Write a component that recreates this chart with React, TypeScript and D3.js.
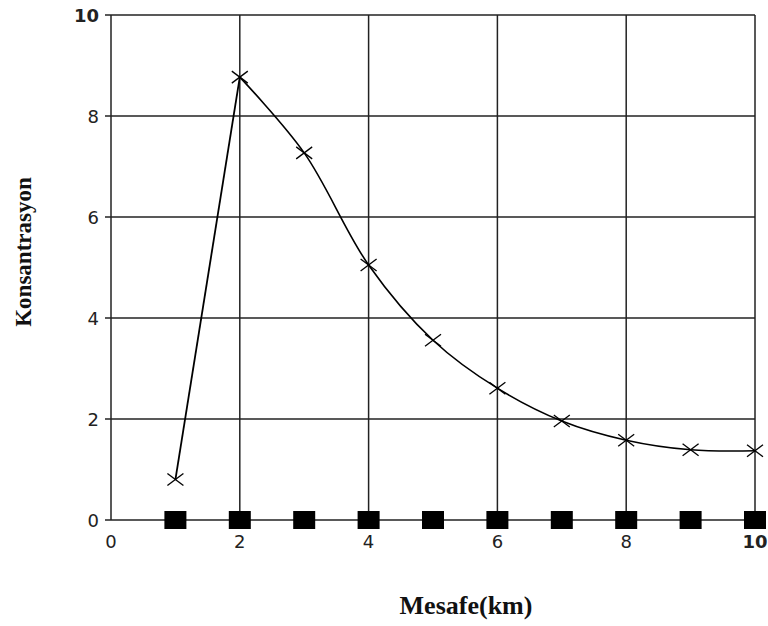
import React from "react";
import * as d3 from "d3";

const distances = [1, 2, 3, 4, 5, 6, 7, 8, 9, 10];
const concentration = [0.8, 8.77, 7.27, 5.05, 3.56, 2.61, 1.96, 1.58, 1.39, 1.37];
const baseline = [0, 0, 0, 0, 0, 0, 0, 0, 0, 0];
const xTicks = [0, 2, 4, 6, 8, 10];
const yTicks = [0, 2, 4, 6, 8, 10];

export default function App() {
  const W = 768, H = 626;
  const x = d3.scaleLinear().domain([0, 10]).range([111, 755]);
  const y = d3.scaleLinear().domain([0, 10]).range([520, 15]);
  const pts = distances.map((d, i) => [d, concentration[i]] as [number, number]);
  const lineLin = d3.line<[number, number]>().x(d => x(d[0])).y(d => y(d[1]));
  const lineSmooth = d3.line<[number, number]>().x(d => x(d[0])).y(d => y(d[1])).curve(d3.curveCatmullRom.alpha(0.5));
  const stroke = "#222";
  return (
    <svg width={W} height={H} style={{ position: "absolute", left: 0, top: 0, background: "#fff" }}>
      {yTicks.map(t => (
        <line key={"gy" + t} x1={x(0) - 6} x2={x(10)} y1={y(t)} y2={y(t)} stroke={stroke} strokeWidth={1.5} />
      ))}
      {xTicks.map(t => (
        <line key={"gx" + t} x1={x(t)} x2={x(t)} y1={y(0)} y2={y(10)} stroke={stroke} strokeWidth={1.5} />
      ))}
      {yTicks.map(t => (
        <text key={"ly" + t} x={x(0) - 12} y={y(t) + 7} textAnchor="end" fontFamily="DejaVu Sans" fontSize={18}
          fontWeight={t === 10 ? "bold" : "normal"} fill="#222">{t}</text>
      ))}
      {xTicks.map(t => (
        <text key={"lx" + t} x={x(t)} y={y(0) + 28} textAnchor="middle" fontFamily="DejaVu Sans" fontSize={18}
          fontWeight={t === 10 ? "bold" : "normal"} fill="#222">{t}</text>
      ))}
      <path d={lineLin(pts.slice(0, 2)) || ""} fill="none" stroke="#000" strokeWidth={1.8} />
      <path d={lineSmooth(pts.slice(1)) || ""} fill="none" stroke="#000" strokeWidth={1.6} />
      {pts.map((p, i) => (
        <g key={"m" + i} transform={`translate(${x(p[0])},${y(p[1])})`} stroke="#000" strokeWidth={1.3}>
          <line x1={-8} y1={-6} x2={8} y2={6} />
          <line x1={-8} y1={6} x2={8} y2={-6} />
        </g>
      ))}
      {distances.map((d, i) => (
        <rect key={"s" + i} x={x(d) - 11} y={y(baseline[i]) - 9} width={22} height={18} fill="#000" />
      ))}
      <text transform={`translate(31,252) rotate(-90)`} textAnchor="middle" fontFamily="Liberation Serif"
        fontWeight="bold" fontSize={23} fill="#111">Konsantrasyon</text>
      <text x={466} y={614} textAnchor="middle" fontFamily="Liberation Serif" fontWeight="bold" fontSize={26} fill="#111">Mesafe(km)</text>
    </svg>
  );
}
